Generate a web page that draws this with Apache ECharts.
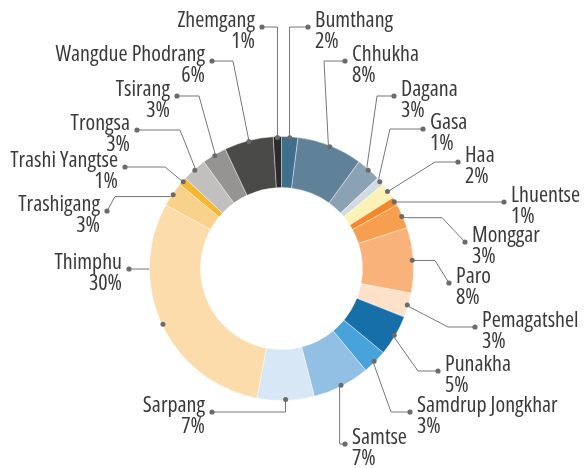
<!DOCTYPE html>
<html>
<head>
<meta charset="utf-8">
<script src="https://cdn.jsdelivr.net/npm/echarts@6/dist/echarts.min.js"></script>
<style>
  html, body { margin: 0; padding: 0; background: #fff; }
  #chart { width: 584px; height: 468px; }
</style>
</head>
<body>
<div id="chart"></div>
<script>
// districts, clockwise from 12 o'clock
var districts = ['Bumthang', 'Chhukha', 'Dagana', 'Gasa', 'Haa', 'Lhuentse', 'Monggar', 'Paro',
  'Pemagatshel', 'Punakha', 'Samdrup Jongkhar', 'Samtse', 'Sarpang', 'Thimphu', 'Trashigang',
  'Trashi Yangtse', 'Trongsa', 'Tsirang', 'Wangdue Phodrang', 'Zhemgang']
var shares = [2, 8, 3, 1, 2, 1, 3, 8, 3, 5, 3, 7, 7, 30, 3, 1, 3, 3, 6, 1]
var sliceColors = ['#3f6f8c', '#5f8299', '#8ba1b4', '#d3dae1', '#fcf2b6', '#f5862a', '#f89f4f',
  '#f9b27a', '#fde1c9', '#176fa9', '#48a3da', '#92c0e5', '#d8e7f5', '#fbdcaa', '#fad18b',
  '#f6b72e', '#c1c0bf', '#959493', '#4a4a49', '#2b2b2d']

// label end point [x, y] and elbow [x, y] (null = take it from the slice point)
var labelEnds = [[308, 27], [345, 61], [394, 96], [423, 129], [458, 162], [504, 202], [465, 242],
  [449, 283], [475, 327], [438, 371], [410, 412], [345, 444], [212, 412], [129, 269], [107, 211],
  [125, 167], [137, 130], [177, 96], [212, 61], [262, 27]]
var labelBends = [[null, 27], [324, 61], [377, 96], [390, 129], [435, 162], [null, 202], [442, null],
  [435, null], [448, 327], [418, 371], [391, 412], [null, 444], [null, 412], [null, 269], [115, null],
  [165, 167], [180, 130], [199, 96], [233, 61], [null, 27]]

var cx = 281.5
var cy = 268.5
var dotR = 128
var total = shares.reduce(function (s, v) { return s + v }, 0)

function slicePoint(i) {
  var before = 0
  for (var k = 0; k < i; k++) before += shares[k]
  var a = (before + shares[i] / 2) / total * Math.PI * 2
  return [cx + dotR * Math.sin(a), cy - dotR * Math.cos(a)]
}

var pieData = districts.map(function (name, i) {
  return { name: name, value: shares[i], itemStyle: { color: sliceColors[i] } }
})

var chart = echarts.init(document.getElementById('chart'))
chart.setOption({
  animation: false,
  graphic: labelEnds.map(function (p) {
    return { type: 'circle', shape: { cx: p[0], cy: p[1], r: 2.6 }, style: { fill: '#6b6b6b' }, z: 10 }
  }),
  series: [
    {
      type: 'pie',
      center: [cx, cy],
      radius: [81, 132],
      startAngle: 90,
      clockwise: true,
      avoidLabelOverlap: false,
      itemStyle: { borderColor: '#fff', borderWidth: 0.4 },
      label: {
        show: true,
        position: 'outside',
        fontStyle: 'condensed', // goes into the canvas font string -> condensed Open Sans
        fontFamily: '"Open Sans", sans-serif',
        fontSize: 22,
        lineHeight: 21,
        color: '#3a3a3a',
        formatter: function (p) {
          return p.name + '\n' + Math.round(p.percent) + '%'
        }
      },
      labelLine: { show: true, lineStyle: { color: '#767676', width: 1 } },
      labelLayout: function (p) {
        var i = p.dataIndex
        var s = slicePoint(i)
        var end = labelEnds[i]
        var bend = labelBends[i]
        var left = i >= 12
        return {
          x: left ? end[0] - 7 : end[0] + 7,
          y: end[1] - 16.5,
          align: left ? 'right' : 'left',
          verticalAlign: 'top',
          labelLinePoints: [s, [bend[0] == null ? s[0] : bend[0], bend[1] == null ? s[1] : bend[1]], end]
        }
      },
      emphasis: { disabled: true },
      data: pieData
    },
    {
      // dots where the leader lines leave the ring
      type: 'pie',
      center: [cx, cy],
      radius: [124, 132],
      startAngle: 90,
      clockwise: true,
      silent: true,
      z: 5,
      itemStyle: { color: 'rgba(0,0,0,0)' },
      label: {
        show: true,
        position: 'inside',
        formatter: '{d|}',
        rich: { d: { width: 5, height: 5, borderRadius: 2.5, backgroundColor: '#6b6b6b' } }
      },
      labelLine: { show: false },
      emphasis: { disabled: true },
      data: shares.map(function (v, i) { return { name: districts[i], value: v } })
    }
  ]
})
</script>
</body>
</html>
